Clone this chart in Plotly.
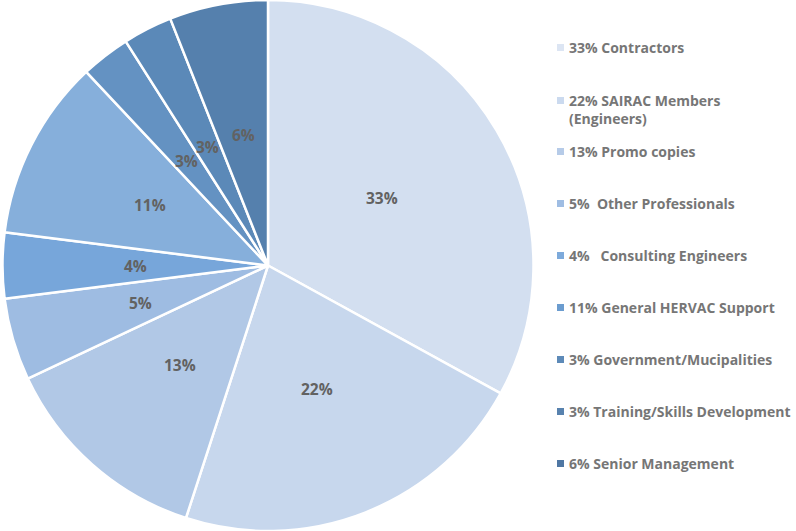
import math
import plotly.graph_objects as go

labels = ["Contractors", "SAIRAC Members (Engineers)", "Promo copies", "Other Professionals",
          "Consulting Engineers", "General HERVAC Support", "Government/Mucipalities",
          "Training/Skills Development", "Senior Management"]
values = [33, 22, 13, 5, 4, 11, 3, 3, 6]
legend_texts = ["33% Contractors", "22% SAIRAC Members<br>(Engineers)", "13% Promo copies",
                "5%\u00a0\u00a0Other Professionals", "4%\u00a0\u00a0\u00a0Consulting Engineers",
                "11% General HERVAC Support", "3% Government/Mucipalities",
                "3% Training/Skills Development", "6% Senior Management"]
colors = ["#d3dff0", "#c7d7ed", "#b1c8e6", "#9ebce2", "#77a6da",
          "#86afdb", "#6492c2", "#5b89b8", "#5580ad"]
marker_colors = ["#dce5f3", "#cbdaef", "#b6cbe8", "#9fbde3", "#7daadb",
                 "#6b9ccf", "#5d8ab8", "#5882ae", "#4f77a3"]

W, H = 796, 531
dom_x = [0, 536 / W]
fig = go.Figure(go.Pie(
    labels=labels, values=values, sort=False, direction="clockwise", rotation=0,
    marker=dict(colors=colors, line=dict(color="white", width=2.5)),
    textinfo="none",
    domain=dict(x=dom_x, y=[0, 1]), hoverinfo="label+value", showlegend=False,
))

annotations = []
# data labels at half radius, mid-angle of each slice (derived from values)
total = sum(values)
cx, cy = (dom_x[0] + dom_x[1]) / 2 * W, H / 2
R = min((dom_x[1] - dom_x[0]) * W, H) / 2
cum = 0
for v in values:
    theta = math.radians(90 - 360 * (cum + v / 2) / total)
    cum += v
    px = cx + 0.5 * R * math.cos(theta)
    py = cy - 0.5 * R * math.sin(theta)
    annotations.append(dict(
        x=px / W, y=1 - py / H, xref="paper", yref="paper", showarrow=False,
        xanchor="center", yanchor="middle",
        text=f"<b>{v}%</b>", font=dict(family="Open Sans", size=15.5, color="#626262"),
    ))

line_y = [47, 100, 151, 203, 255, 307, 359, 411, 463]
shapes = []
for i, t in enumerate(legend_texts):
    py = line_y[i]
    annotations.append(dict(
        x=567 / W, y=1 - (py - 11) / H, xref="paper", yref="paper", xanchor="left", yanchor="top",
        text=f"<b>{t}</b>", showarrow=False, align="left",
        font=dict(family="Open Sans", size=14, color="#767676"),
    ))
    shapes.append(dict(type="rect", xref="paper", yref="paper",
                       x0=557 / W, x1=564 / W, y0=1 - (py + 4) / H, y1=1 - (py - 3) / H,
                       fillcolor=marker_colors[i], line=dict(width=0)))

fig.update_layout(
    width=W, height=H, margin=dict(l=0, r=0, t=0, b=0),
    paper_bgcolor="white", plot_bgcolor="white",
    annotations=annotations, shapes=shapes,
)
fig.write_html("out.html")
